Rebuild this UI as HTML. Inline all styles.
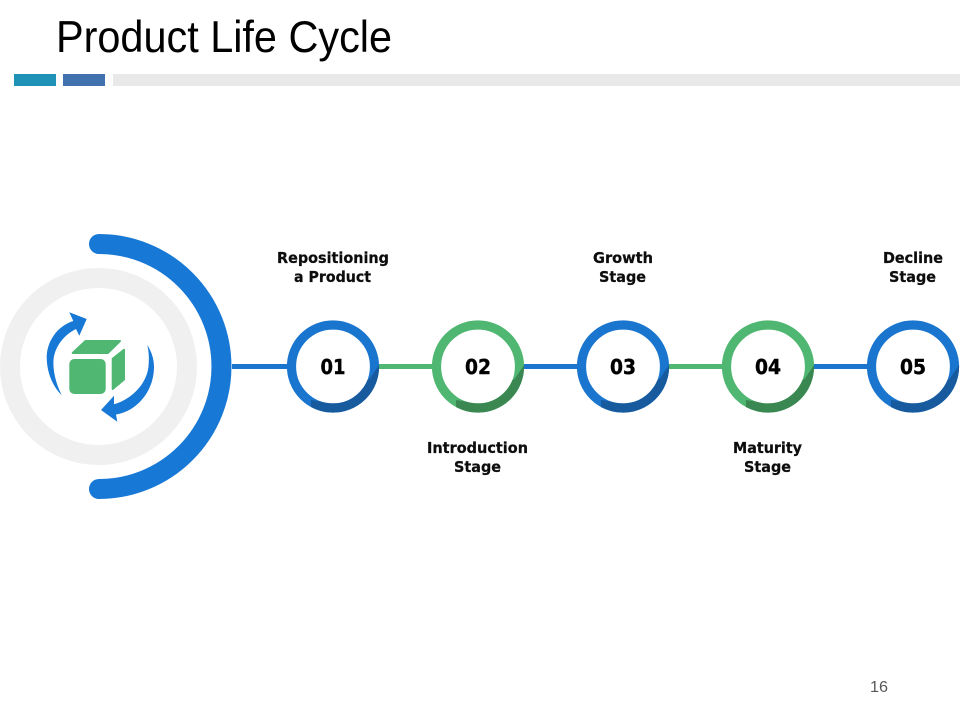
<!DOCTYPE html>
<html><head><meta charset="utf-8"><style>
html,body{margin:0;padding:0;background:#fff;width:960px;height:720px;overflow:hidden}
svg{display:block}
.l{font:bold 15.5px "DejaVu Sans","Liberation Sans",sans-serif;fill:#0d0d0d;stroke:#0d0d0d;stroke-width:.25;text-anchor:middle}
.n{font:bold 20px "DejaVu Sans","Liberation Sans",sans-serif;fill:#000;stroke:#000;stroke-width:.4;text-anchor:middle}
</style></head><body>
<svg width="960" height="720" viewBox="0 0 960 720" xmlns="http://www.w3.org/2000/svg">
<defs>
<clipPath id="c"><polygon points="47,-3 37,12 -3,36.5 -22,33.5 -22,60 60,60 60,-3"/></clipPath>
<g id="blue"><circle r="41.5" fill="#fff" stroke="#1a75cf" stroke-width="9.2"/><circle r="41.5" fill="none" stroke="#175a9e" stroke-width="9.2" clip-path="url(#c)"/></g>
<g id="green"><circle r="41.5" fill="#fff" stroke="#4fb771" stroke-width="9.2"/><circle r="41.5" fill="none" stroke="#3a8752" stroke-width="9.2" clip-path="url(#c)"/></g>
</defs>
<text x="56" y="52" font-family="Liberation Sans, sans-serif" font-size="44.5" fill="#000" textLength="336" lengthAdjust="spacingAndGlyphs">Product Life Cycle</text>
<rect x="14" y="74" width="42" height="12" fill="#1f93b5"/>
<rect x="63" y="74" width="42" height="12" fill="#4272ad"/>
<rect x="113" y="74" width="847" height="12" fill="#e9e9e9"/>
<circle cx="98.5" cy="366.5" r="88.5" fill="none" stroke="#f0f0f0" stroke-width="20"/>
<path d="M99 244 A122.5 122.5 0 0 1 99 489" fill="none" stroke="#1778d6" stroke-width="20" stroke-linecap="round"/>
<path d="M232 366.5H287" stroke="#1a75cf" stroke-width="5"/>
<path d="M379 366.5H433" stroke="#4fb771" stroke-width="5"/>
<path d="M523 366.5H578" stroke="#1a75cf" stroke-width="5"/>
<path d="M668 366.5H722" stroke="#4fb771" stroke-width="5"/>
<path d="M813 366.5H868" stroke="#1a75cf" stroke-width="5"/>
<path fill="#1778d6" d="M86.7 319L69.3 312.3L73.3 321C57 326 46.5 342 46.7 358C47 373 53 387 61.7 395C56.5 385 53.2 373 53.4 362C53.7 349 62 336 76 329L79.3 335.7Z"/>
<path fill="#1778d6" d="M101 410L117.3 421.7L116 414.5C138 411 154 390 154 367C154 358 151 351 147.3 345C149 352 149.3 360 148.3 368C146 385 130 400 114 404.3L114 395.7Z"/>
<rect x="69.3" y="359" width="36.4" height="35" rx="5" fill="#4fb771"/>
<polygon points="72.7,353 85.5,341 120,341 107.8,353" fill="#4fb771" stroke="#4fb771" stroke-width="2" stroke-linejoin="round"/>
<polygon points="112.7,358.8 124,349.8 124,379.5 112.7,389" fill="#4fb771" stroke="#4fb771" stroke-width="2" stroke-linejoin="round"/>
<use href="#blue" x="333" y="366.5"/>
<use href="#green" x="478" y="366.5"/>
<use href="#blue" x="623" y="366.5"/>
<use href="#green" x="768" y="366.5"/>
<use href="#blue" x="913" y="366.5"/>
<text class="n" x="333" y="374" textLength="25" lengthAdjust="spacingAndGlyphs">01</text>
<text class="n" x="478" y="374" textLength="26" lengthAdjust="spacingAndGlyphs">02</text>
<text class="n" x="623" y="374" textLength="26" lengthAdjust="spacingAndGlyphs">03</text>
<text class="n" x="768" y="374" textLength="26" lengthAdjust="spacingAndGlyphs">04</text>
<text class="n" x="913" y="374" textLength="26" lengthAdjust="spacingAndGlyphs">05</text>
<text class="l" x="333" y="263" textLength="112" lengthAdjust="spacingAndGlyphs">Repositioning</text>
<text class="l" x="332.5" y="282" textLength="77" lengthAdjust="spacingAndGlyphs">a Product</text>
<text class="l" x="477.5" y="453" textLength="101" lengthAdjust="spacingAndGlyphs">Introduction</text>
<text class="l" x="477.5" y="472" textLength="47" lengthAdjust="spacingAndGlyphs">Stage</text>
<text class="l" x="623" y="263" textLength="60" lengthAdjust="spacingAndGlyphs">Growth</text>
<text class="l" x="622.5" y="282" textLength="47" lengthAdjust="spacingAndGlyphs">Stage</text>
<text class="l" x="767.5" y="453" textLength="69" lengthAdjust="spacingAndGlyphs">Maturity</text>
<text class="l" x="767.5" y="472" textLength="47" lengthAdjust="spacingAndGlyphs">Stage</text>
<text class="l" x="913" y="263" textLength="60" lengthAdjust="spacingAndGlyphs">Decline</text>
<text class="l" x="912.5" y="282" textLength="47" lengthAdjust="spacingAndGlyphs">Stage</text>
<text x="870" y="692" font-family="Liberation Sans, sans-serif" font-size="16" fill="#595959" textLength="18" lengthAdjust="spacingAndGlyphs">16</text>
</svg>
</body></html>
